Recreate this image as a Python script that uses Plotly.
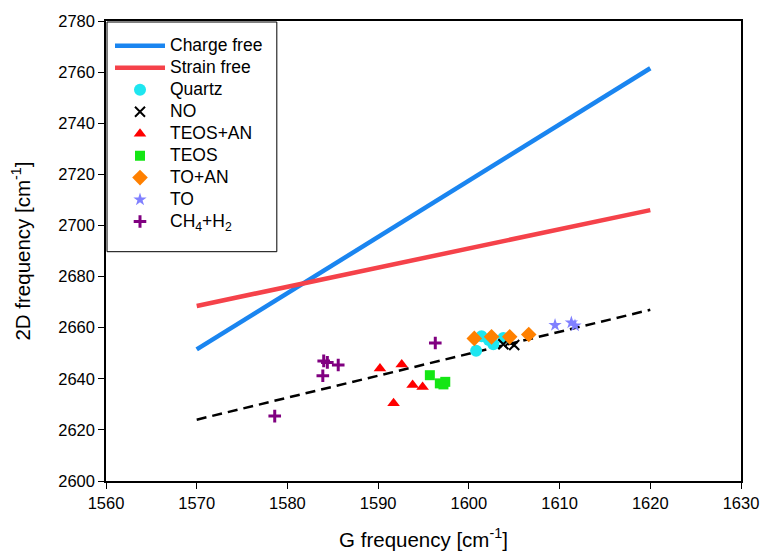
import plotly.graph_objects as go

# Reference lines (G, 2D)
charge_free_x = [1570, 1620]
charge_free_y = [2651.5, 2761.5]
strain_free_x = [1570, 1620]
strain_free_y = [2668.5, 2706.0]
fit_x = [1570, 1620]
fit_y = [2624.0, 2667.0]

# Samples
quartz_x = [1601.4, 1600.8, 1602.7, 1603.8, 1602.2]
quartz_y = [2656.6, 2651.0, 2653.5, 2656.0, 2655.2]
no_x = [1603.8, 1604.5, 1605.0]
no_y = [2653.5, 2654.5, 2653.2]
teos_an_x = [1590.2, 1592.6, 1593.8, 1594.9, 1591.7]
teos_an_y = [2644.0, 2645.6, 2637.6, 2636.8, 2630.4]
teos_x = [1595.7, 1596.8, 1597.4, 1597.2]
teos_y = [2641.4, 2638.2, 2638.8, 2637.8]
to_an_x = [1600.6, 1602.5, 1604.5, 1606.6]
to_an_y = [2655.8, 2656.4, 2656.4, 2657.3]
to_x = [1609.5, 1611.3, 1611.7]
to_y = [2661.0, 2662.0, 2660.8]
ch4_x = [1584.0, 1584.4, 1585.6, 1583.9, 1578.6, 1596.3]
ch4_y = [2647.0, 2646.4, 2645.4, 2641.2, 2625.4, 2654.0]

LEG_FS = "17.5px"


def lbl(t):
    return '<span style="font-size:%s">%s</span>' % (LEG_FS, t)


fig = go.Figure()
fig.add_trace(go.Scatter(x=charge_free_x, y=charge_free_y, mode="lines",
                         name=lbl("Charge free"), line=dict(color="#1a85f0", width=4.5)))
fig.add_trace(go.Scatter(x=strain_free_x, y=strain_free_y, mode="lines",
                         name=lbl("Strain free"), line=dict(color="#f5424a", width=4.5)))
fig.add_trace(go.Scatter(x=fit_x, y=fit_y, mode="lines", showlegend=False,
                         line=dict(color="black", width=2.5, dash="10px,6px")))


def pts(x, y, name, symbol, color, size, lw=0):
    mk = dict(symbol=symbol, color=color, size=size)
    if lw:
        mk["line"] = dict(color=color, width=lw)
    else:
        mk["line"] = dict(width=0)
    fig.add_trace(go.Scatter(x=x, y=y, mode="markers", name=lbl(name), marker=mk))


pts(quartz_x, quartz_y, "Quartz", "circle", "#1ee6f0", 12)
pts(no_x, no_y, "NO", "x-thin-open", "black", 10, 2)
pts(teos_an_x, teos_an_y, "TEOS+AN", "triangle-up", "#ff0000", 11)
pts(teos_x, teos_y, "TEOS", "square", "#14e614", 10)
pts(to_an_x, to_an_y, "TO+AN", "diamond", "#ff8000", 12)
pts(to_x, to_y, "TO", "star", "#8080ff", 10)
pts(ch4_x, ch4_y, "CH<sub>4</sub>+H<sub>2</sub>", "cross-thin-open", "#800080", 9, 3)

font = "Liberation Sans, Arial, sans-serif"
axis_common = dict(showline=True, linecolor="black", linewidth=1.5, mirror=True,
                   ticks="outside", ticklen=6, tickcolor="black", tickwidth=1,
                   showgrid=False, zeroline=False, automargin=False,
                   tickfont=dict(family=font, size=16.5, color="black"))

fig.update_layout(
    width=761, height=556,
    margin=dict(l=106, r=19.5, t=21, b=75, autoexpand=False),
    paper_bgcolor="white", plot_bgcolor="white",
    font=dict(family=font, color="black"),
    xaxis=dict(range=[1560, 1630], dtick=10, tick0=1560,
               title=dict(text="G frequency [cm<sup>-1</sup>]", font=dict(family=font, size=20.5), standoff=22),
               **axis_common),
    yaxis=dict(range=[2600, 2780], dtick=20, tick0=2600,
               title=dict(text="2D frequency [cm<sup>-1</sup>]", font=dict(family=font, size=20.5), standoff=22),
               **axis_common),
    legend=dict(x=0.0063, y=0.981, xanchor="left", yanchor="top",
                borderwidth=0, bgcolor="rgba(0,0,0,0)",
                font=dict(family=font, size=14.6, color="black"),
                itemwidth=50, tracegroupgap=0),
    shapes=[dict(type="rect", xref="paper", yref="paper",
                 x0=0.0016, x1=0.269, y0=0.4985, y1=0.9978,
                 line=dict(color="black", width=1), fillcolor="white", layer="below")],
)

fig.write_html("out.html", config={"displayModeBar": False},
               post_script="document.body.style.margin='0px';document.body.style.overflow='hidden';")
